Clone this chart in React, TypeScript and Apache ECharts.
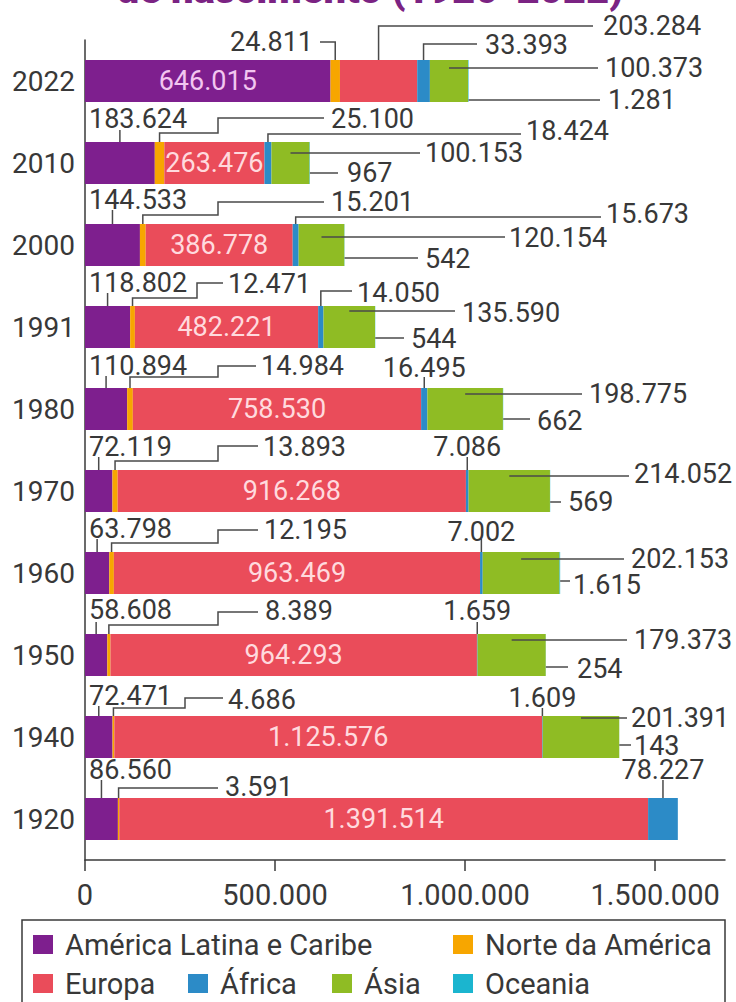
import React, { useEffect, useRef } from 'react';
import * as echarts from 'echarts';

// ---------- data ----------
const years = ['1920', '1940', '1950', '1960', '1970', '1980', '1991', '2000', '2010', '2022'];
const latin = [86560, 72471, 58608, 63798, 72119, 110894, 118802, 144533, 183624, 646015];
const norte = [3591, 4686, 8389, 12195, 13893, 14984, 12471, 15201, 25100, 24811];
const europa = [1391514, 1125576, 964293, 963469, 916268, 758530, 482221, 386778, 263476, 203284];
const africa = [78227, 1609, 1659, 7002, 7086, 16495, 14050, 15673, 18424, 33393];
const asia = [null, 201391, 179373, 202153, 214052, 198775, 135590, 120154, 100153, 100373];
const oceania = [null, 143, 254, 1615, 569, 662, 544, 542, 967, 1281];
const seriesNames = ['América Latina e Caribe', 'Norte da América', 'Europa', 'África', 'Ásia', 'Oceania'];
const xTicks = [0, 500000, 1000000, 1500000];
const titleText = 'de nascimento (1920-2022)';

// ---------- style ----------
const colors = ['#7e1f8e', '#f7a600', '#ea4c5a', '#2c8bc7', '#8fbc24', '#1bb5cf'];
const FONT = 'Roboto, "Liberation Sans", sans-serif';
const TEXT = '#383838';
const LINE = '#4a4a4a';
const HALF = 21;
const FS = 27;

// annotation layout (pixel positions are layout only; anchors come from the scales)
type Step = ['v' | 'h', number];
type Ann = { s: number; from: 'top' | 'mid' | 'end'; fy?: number; steps: Step[]; tx: number | 'seg'; ty: number; align?: string };
const layout: Record<string, Ann[]> = {
  '2022': [
    { s: 1, from: 'top', steps: [['v', -39], ['h', 320]], tx: 313, ty: -39, align: 'right' },
    { s: 2, from: 'top', steps: [['v', -55], ['h', 593]], tx: 603, ty: -55 },
    { s: 3, from: 'top', steps: [['v', -37], ['h', 477]], tx: 485, ty: -36 },
    { s: 4, from: 'mid', fy: -13, steps: [['h', 598]], tx: 605, ty: -13 },
    { s: 5, from: 'end', fy: 19, steps: [['h', 600]], tx: 608, ty: 19 },
  ],
  '2010': [
    { s: 0, from: 'top', steps: [['v', -33]], tx: 89, ty: -44 },
    { s: 1, from: 'top', steps: [['v', -30], ['h', 218], ['v', -45], ['h', 324]], tx: 331, ty: -44 },
    { s: 3, from: 'top', steps: [['v', -29], ['h', 521]], tx: 526, ty: -32 },
    { s: 4, from: 'mid', fy: -10, steps: [['h', 420]], tx: 425, ty: -10 },
    { s: 5, from: 'end', fy: 10, steps: [['h', 338]], tx: 347, ty: 10 },
  ],
  '2000': [
    { s: 0, from: 'top', steps: [['v', -35]], tx: 89, ty: -45 },
    { s: 1, from: 'top', steps: [['v', -30], ['h', 218], ['v', -43], ['h', 324]], tx: 331, ty: -43 },
    { s: 3, from: 'top', steps: [['v', -28], ['h', 601]], tx: 606, ty: -31 },
    { s: 4, from: 'mid', fy: -8, steps: [['h', 505]], tx: 509, ty: -7 },
    { s: 5, from: 'end', fy: 13, steps: [['h', 418]], tx: 425, ty: 14 },
  ],
  '1991': [
    { s: 0, from: 'top', steps: [['v', -34]], tx: 89, ty: -44 },
    { s: 1, from: 'top', steps: [['v', -29], ['h', 197], ['v', -44], ['h', 223]], tx: 228, ty: -43 },
    { s: 3, from: 'top', steps: [['v', -36], ['h', 352]], tx: 357, ty: -34 },
    { s: 4, from: 'mid', fy: -16, steps: [['h', 455]], tx: 462, ty: -14 },
    { s: 5, from: 'end', fy: 11, steps: [['h', 404]], tx: 411, ty: 12 },
  ],
  '1980': [
    { s: 0, from: 'top', steps: [['v', -33]], tx: 89, ty: -43 },
    { s: 1, from: 'top', steps: [['v', -32], ['h', 218], ['v', -43], ['h', 256]], tx: 261, ty: -43 },
    { s: 3, from: 'top', steps: [['v', -32]], tx: 'seg', ty: -41, align: 'center' },
    { s: 4, from: 'mid', fy: -15, steps: [['h', 582]], tx: 589, ty: -15 },
    { s: 5, from: 'end', fy: 10, steps: [['h', 530]], tx: 537, ty: 12 },
  ],
  '1970': [
    { s: 0, from: 'top', steps: [['v', -34]], tx: 89, ty: -44 },
    { s: 1, from: 'top', steps: [['v', -30], ['h', 218], ['v', -45], ['h', 258]], tx: 263, ty: -44 },
    { s: 3, from: 'top', steps: [['v', -34]], tx: 'seg', ty: -44, align: 'center' },
    { s: 4, from: 'mid', fy: -15, steps: [['h', 629]], tx: 634, ty: -17 },
    { s: 5, from: 'end', fy: 11, steps: [['h', 561]], tx: 568, ty: 11 },
  ],
  '1960': [
    { s: 0, from: 'top', steps: [['v', -34]], tx: 89, ty: -44 },
    { s: 1, from: 'top', steps: [['v', -30], ['h', 218], ['v', -43], ['h', 258]], tx: 264, ty: -43 },
    { s: 3, from: 'top', steps: [['v', -34]], tx: 'seg', ty: -41, align: 'center' },
    { s: 4, from: 'mid', fy: -14, steps: [['h', 624]], tx: 631, ty: -14 },
    { s: 5, from: 'end', fy: 8, steps: [['h', 570]], tx: 573, ty: 12 },
  ],
  '1950': [
    { s: 0, from: 'top', steps: [['v', -33]], tx: 89, ty: -45 },
    { s: 1, from: 'top', steps: [['v', -30], ['h', 218], ['v', -43], ['h', 258]], tx: 265, ty: -44 },
    { s: 3, from: 'top', steps: [['v', -33]], tx: 'seg', ty: -44, align: 'center' },
    { s: 4, from: 'mid', fy: -15, steps: [['h', 627]], tx: 634, ty: -15 },
    { s: 5, from: 'end', fy: 12, steps: [['h', 568]], tx: 577, ty: 14 },
  ],
  '1940': [
    { s: 0, from: 'top', steps: [['v', -31]], tx: 89, ty: -41 },
    { s: 1, from: 'top', steps: [['v', -29], ['h', 185], ['v', -39], ['h', 223]], tx: 228, ty: -37 },
    { s: 3, from: 'top', steps: [['v', -29]], tx: 'seg', ty: -39, align: 'center' },
    { s: 4, from: 'mid', fy: -19, steps: [['h', 627]], tx: 631, ty: -19 },
    { s: 5, from: 'end', fy: 8, steps: [['h', 631]], tx: 634, ty: 9 },
  ],
  '1920': [
    { s: 0, from: 'top', steps: [['v', -39]], tx: 89, ty: -49 },
    { s: 1, from: 'top', steps: [['v', -31], ['h', 218]], tx: 225, ty: -32 },
    { s: 3, from: 'top', steps: [['v', -39]], tx: 'seg', ty: -49, align: 'center' },
  ],
};
const latinInside = ['2022'];
const legendPos = [
  { left: 33, top: 930 }, { left: 453, top: 930 },
  { left: 33, top: 969 }, { left: 188, top: 969 }, { left: 332, top: 969 }, { left: 453, top: 969 },
];

const fmt = (v: number) => String(v).replace(/\B(?=(\d{3})+(?!\d))/g, '.');

export default function App() {
  const ref = useRef<HTMLDivElement>(null);
  useEffect(() => {
    if (!ref.current) return;
    const chart = echarts.init(ref.current, undefined, { renderer: 'svg' });
    const all = [latin, norte, europa, africa, asia, oceania];

    const barSeries = all.map((arr, k) => ({
      name: seriesNames[k],
      type: 'bar',
      stack: 'total',
      barWidth: 2 * HALF,
      itemStyle: { color: colors[k] },
      data: arr.map((v, i) => {
        let show = false;
        if (k === 0) show = latinInside.includes(years[i]);
        if (k === 2) show = !latinInside.includes(years[i]);
        return {
          value: v,
          label: {
            show,
            position: 'inside',
            formatter: (p: any) => fmt(p.value),
            color: k === 0 ? '#f2c6f0' : '#ffdade',
            fontSize: FS,
            fontFamily: FONT,
          },
        };
      }),
    }));

    const annSeries = {
      type: 'custom',
      coordinateSystem: 'cartesian2d',
      silent: true,
      clip: false,
      z: 10,
      encode: { x: 0, y: 1 },
      data: years.map((_, i) => [0, i]),
      renderItem: (params: any, api: any) => {
        const i = params.dataIndex;
        const specs = layout[years[i]] || [];
        const c = api.coord([0, i])[1];
        const cum = (k: number) => all.slice(0, k).reduce((s, arr) => s + ((arr[i] as number) || 0), 0);
        const endX = api.coord([cum(6), i])[0];
        const children: any[] = [];
        specs.forEach((sp) => {
          const x0 = api.coord([cum(sp.s), i])[0];
          const x1 = api.coord([cum(sp.s + 1), i])[0];
          const segX = (x0 + x1) / 2;
          let px: number, py: number;
          if (sp.from === 'top') { px = segX; py = c - HALF; }
          else if (sp.from === 'mid') { px = segX; py = c + (sp.fy || 0); }
          else { px = endX; py = c + (sp.fy || 0); }
          const pts: number[][] = [[px, py]];
          sp.steps.forEach(([t, v]) => {
            if (t === 'v') py = c + v; else px = v;
            pts.push([px, py]);
          });
          children.push({
            type: 'polyline',
            shape: { points: pts },
            style: { stroke: LINE, lineWidth: 1.5, fill: 'none' },
          });
          const tx = sp.tx === 'seg' ? segX : sp.tx;
          children.push({
            type: 'text',
            x: tx,
            y: c + sp.ty,
            style: {
              text: fmt(all[sp.s][i] as number),
              fontSize: FS,
              lineHeight: 22,
              fontFamily: FONT,
              fill: TEXT,
              align: sp.align || 'left',
              verticalAlign: 'middle',
            },
          });
        });
        return { type: 'group', children };
      },
    };

    chart.setOption({
      animation: false,
      backgroundColor: '#ffffff',
      grid: { left: 85, top: 40, width: 640, height: 820 },
      xAxis: {
        type: 'value',
        min: 0,
        max: 1684000,
        splitLine: { show: false },
        axisLine: { show: true, lineStyle: { color: '#3a3a3a', width: 1.5 } },
        axisTick: { show: true, length: 11, lineStyle: { color: '#3a3a3a', width: 1.5 }, customValues: xTicks },
        axisLabel: {
          customValues: xTicks,
          formatter: (v: number) => fmt(v),
          fontSize: 29,
          fontFamily: FONT,
          color: TEXT,
          margin: 20,
        },
      },
      yAxis: {
        type: 'category',
        data: years,
        axisLine: { show: true, lineStyle: { color: '#3a3a3a', width: 1.5 } },
        axisTick: { show: false },
        axisLabel: { fontSize: 28, fontFamily: FONT, color: TEXT, margin: 10 },
      },
      legend: seriesNames.map((n, k) => ({
        data: [n],
        left: legendPos[k].left,
        top: legendPos[k].top,
        padding: 0,
        icon: 'rect',
        itemWidth: 20,
        itemHeight: 19,
        selectedMode: false,
        textStyle: { fontSize: 29, fontFamily: FONT, color: TEXT, padding: [0, 0, 0, 7] },
      })),
      graphic: [
        {
          type: 'text',
          x: 370,
          y: -11,
          style: {
            text: titleText,
            fontSize: 40,
            fontWeight: 900,
            fontFamily: FONT,
            fill: '#7b2383',
            align: 'center',
            verticalAlign: 'middle',
          },
        },
        {
          type: 'rect',
          x: 22,
          y: 920,
          shape: { x: 0, y: 0, width: 703, height: 120 },
          style: { fill: 'none', stroke: '#3a3a3a', lineWidth: 1.5 },
        },
      ],
      series: [...barSeries, annSeries],
    });
    return () => chart.dispose();
  }, []);
  return <div ref={ref} style={{ position: 'fixed', left: 0, top: 0, width: 736, height: 1002, background: '#fff' }} />;
}
